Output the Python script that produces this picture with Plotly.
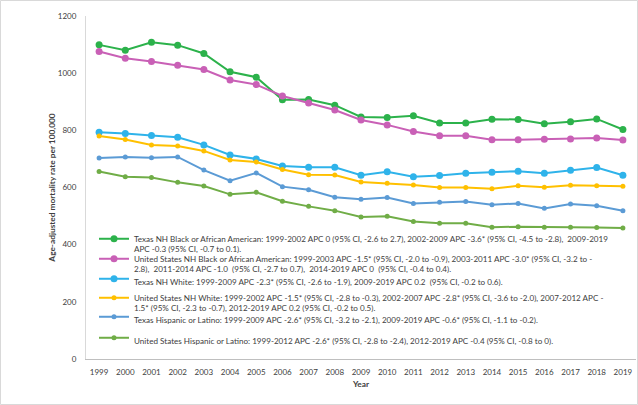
import plotly.graph_objects as go

years = list(range(1999, 2020))

tx_black = [1099, 1080, 1108, 1098, 1069, 1005, 986, 907, 908, 888, 847, 845, 851, 826, 826, 839, 838, 823, 830, 840, 803]
us_black = [1076, 1052, 1041, 1028, 1013, 976, 960, 920, 896, 871, 836, 819, 796, 781, 781, 767, 767, 769, 770, 773, 766]
tx_white = [793, 789, 782, 776, 749, 714, 700, 675, 671, 671, 643, 655, 638, 642, 650, 653, 657, 650, 660, 670, 643]
us_white = [780, 768, 749, 745, 728, 696, 689, 663, 645, 644, 619, 615, 609, 600, 600, 596, 606, 601, 608, 606, 604]
tx_hisp = [703, 707, 704, 707, 661, 624, 651, 603, 592, 566, 559, 565, 544, 548, 551, 540, 544, 527, 542, 536, 519]
us_hisp = [656, 638, 635, 618, 605, 576, 583, 552, 534, 519, 497, 499, 481, 475, 475, 461, 463, 461, 461, 460, 458]

names = [
    "Texas NH Black or African American: 1999-2002 APC 0 (95% CI, -2.6 to 2.7), 2002-2009 APC -3.6* (95% CI, -4.5 to -2.8),  2009-2019<br>APC -0.3 (95% CI, -0.7 to 0.1).",
    "United States NH Black or African American: 1999-2003 APC -1.5* (95% CI, -2.0 to -0.9), 2003-2011 APC -3.0* (95% CI, -3.2 to -<br>2.8),  2011-2014 APC -1.0  (95% CI, -2.7 to 0.7),  2014-2019 APC 0  (95% CI, -0.4 to 0.4).",
    "Texas NH White: 1999-2009 APC -2.3* (95% CI, -2.6 to -1.9), 2009-2019 APC 0.2  (95% CI, -0.2 to 0.6).",
    "United States NH White: 1999-2002 APC -1.5* (95% CI, -2.8 to -0.3), 2002-2007 APC -2.8* (95% CI, -3.6 to -2.0), 2007-2012 APC -<br>1.5* (95% CI, -2.3 to -0.7), 2012-2019 APC 0.2 (95% CI, -0.2 to 0.5).",
    "Texas Hispanic or Latino: 1999-2009 APC -2.6* (95% CI, -3.2 to -2.1), 2009-2019 APC -0.6* (95% CI, -1.1 to -0.2).",
    "United States Hispanic or Latino: 1999-2012 APC -2.6* (95% CI, -2.8 to -2.4), 2012-2019 APC -0.4 (95% CI, -0.8 to 0).",
]
series = [tx_black, us_black, tx_white, us_white, tx_hisp, us_hisp]
colors = ["#2cb24b", "#c960b6", "#2fb3ea", "#ffc000", "#5b9bd5", "#70ad47"]
msizes = [7, 7, 7, 5, 5, 5]
legend_ids = ["legend", "legend2", "legend3", "legend4", "legend5", "legend6"]
legend_tops_px = [227, 247, 267, 286, 305, 326]

W, H = 638, 405
ml, mr, mt, mb = 86, 2, 16, 46
pw, ph = W - ml - mr, H - mt - mb

fig = go.Figure()
for name, ys, c, ms, lg in zip(names, series, colors, msizes, legend_ids):
    fig.add_trace(go.Scatter(
        x=years, y=ys, name=name, mode="lines+markers", legend=lg,
        line=dict(color=c, width=2), marker=dict(color=c, size=ms, symbol="circle"),
    ))

legend_font = dict(family="Lato", size=8.1, color="#404040")
legends = {}
for lg, top in zip(legend_ids, legend_tops_px):
    legends[lg] = dict(
        x=(94 - ml) / pw, y=(H - mb - top) / ph, xanchor="left", yanchor="top",
        bgcolor="rgba(0,0,0,0)", font=legend_font, valign="top", itemwidth=30,
    )

fig.update_layout(
    width=W, height=H,
    margin=dict(l=ml, r=mr, t=mt, b=mb),
    paper_bgcolor="white", plot_bgcolor="white",
    font=dict(family="Lato", size=8, color="#595959"),
    showlegend=True,
    **legends,
    xaxis=dict(
        range=[1998.5, 2019.5], tickmode="array", tickvals=years,
        ticktext=[str(y) for y in years], showgrid=False, zeroline=False,
        showline=True, linecolor="#bfbfbf", linewidth=1, ticks="",
        ticklabelstandoff=5,
        tickfont=dict(family="Lato", size=8, color="#404040"),
        title=dict(text="<b>Year</b>", font=dict(family="Lato", size=8.3, color="#404040"), standoff=5),
    ),
    yaxis=dict(
        range=[0, 1200], dtick=200, showgrid=False, zeroline=False,
        showline=True, linecolor="#d9d9d9", linewidth=1, ticks="",
        ticklabelstandoff=7,
        tickfont=dict(family="Lato", size=8, color="#404040"),
        title=dict(text="<b>Age-adjusted mortality rate per 100,000</b>",
                   font=dict(family="Lato", size=8.3, color="#404040"), standoff=0),
    ),
    shapes=[dict(type="rect", xref="paper", yref="paper",
                 x0=-(ml - 0.5) / pw, x1=1 + (mr - 0.5) / pw,
                 y0=-(mb - 0.5) / ph, y1=1 + (mt - 0.5) / ph,
                 line=dict(color="#d9d9d9", width=1), fillcolor="rgba(0,0,0,0)", layer="below")],
)

fig.write_html("out.html", config={"displayModeBar": False},
               post_script="document.body.style.margin='0';")
